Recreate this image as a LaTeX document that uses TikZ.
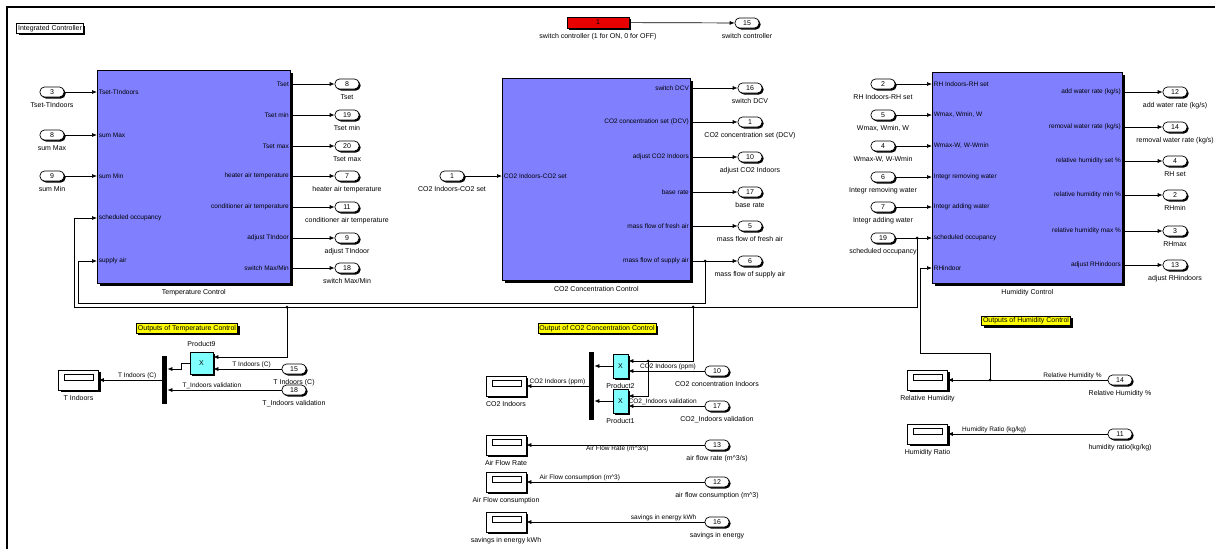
\documentclass[tikz,border=0pt]{standalone}
\usepackage{fontspec}
\setmainfont{Liberation Sans}
\usepackage{tikz}
\definecolor{blockblue}{RGB}{128,128,255}
\definecolor{prodcyan}{RGB}{128,255,255}
\definecolor{constred}{RGB}{230,0,0}
\definecolor{notegelb}{RGB}{255,255,0}
\usetikzlibrary{arrows, arrows.meta, shapes, shadows, positioning}

\begin{document}
\begin{tikzpicture}[x=1pt, y=-1pt, >={Latex[length=5pt,width=4pt]}, line width=0.7pt,
		font=\fontsize{7}{8}\selectfont, label distance=4pt,
		subsys/.style={draw, fill=blockblue, inner sep=0pt, anchor=north west, drop shadow={shadow xshift=3pt, shadow yshift=-3pt, opacity=1, fill=black}},
		port/.style={draw, fill=white, rounded corners=4.5pt, minimum width=24pt, minimum height=10pt, inner sep=0pt, drop shadow={shadow xshift=1.5pt, shadow yshift=-1.5pt, opacity=1, fill=black}},
		olab/.style={font=\fontsize{7}{8}\selectfont, inner sep=1pt},
		ilab/.style={font=\fontsize{6.5}{7}\selectfont, inner sep=1.5pt},
		sig/.style={font=\fontsize{6.5}{7}\selectfont, inner sep=0.5pt},
		note/.style={draw, fill=notegelb, inner sep=1.5pt, drop shadow={shadow xshift=2pt, shadow yshift=-2pt, opacity=1, fill=black}},
		prod/.style={draw, fill=prodcyan, inner sep=0pt, minimum width=23pt, minimum height=22pt, drop shadow={shadow xshift=1.5pt, shadow yshift=-1.5pt, opacity=1, fill=black}},
		muxbar/.style={fill=black, inner sep=0pt, minimum width=5pt},
		disp/.style={draw, fill=white, minimum width=40pt, minimum height=20pt, inner sep=0pt, drop shadow={shadow xshift=2pt, shadow yshift=-2pt, opacity=1, fill=black},
			path picture={\draw[line width=0.6pt] ([xshift=6pt,yshift=-4pt]path picture bounding box.north west) rectangle ([xshift=-5pt,yshift=10pt]path picture bounding box.south east);}}]
	\useasboundingbox (0,0) rectangle (1215,549);
	% Rahmen
	\draw[line width=2pt] (7,549) -- (7,6.5) -- (1215,6.5);
	\node[note, fill=white] (title) at (50,28.5) {Integrated Controller};
	% Schalter
	\node[draw, fill=constred, minimum width=62pt, minimum height=11pt, inner sep=0pt, drop shadow={shadow xshift=2pt, shadow yshift=-2pt, opacity=1, fill=black}, label={[olab]below:{switch controller (1 for ON, 0 for OFF)}}] (sw) at (598,22.5) {1};
	\node[port, label={[olab]below:switch controller}] (swo) at (747,23) {15};
	\draw[->] (sw) -- (swo);
	% Temperature Control
	\node[subsys, minimum width=193pt, minimum height=213pt, label={[olab]below:Temperature Control}] (tc) at (97,70) {};
	\foreach \yy/\nr/\txt [count=\i] in {92/3/Tset-TIndoors, 135/8/sum Max, 176/9/sum Min}{
		\node[port, label={[olab]below:\txt}] (tci\i) at (52,\yy) {\nr};
		\draw[->] (tci\i) -- (tc.west |- tci\i);
		\node[ilab, anchor=west] (tcil\i) at (tc.west |- tci\i) {\txt};
	}
	\coordinate (tcin4) at (tc.west |- 0,218);
	\coordinate (tcin5) at (tc.west |- 0,261);
	\node[ilab, anchor=west] (tcil4) at (tcin4) {scheduled occupancy};
	\node[ilab, anchor=west] (tcil5) at (tcin5) {supply air};
	\foreach \yy/\nr/\txt [count=\i] in {84/8/Tset, 115/19/Tset min, 146/20/Tset max, 176/7/heater air temperature, 207/11/conditioner air temperature, 238/9/adjust TIndoor, 268/18/{switch Max/Min}}{
		\node[port, label={[olab]below:\txt}] (tco\i) at (347,\yy) {\nr};
		\draw[->] (tc.east |- tco\i) -- (tco\i);
		\node[ilab, anchor=east] (tcol\i) at (tc.east |- tco\i) {\txt};
	}
	% CO2 Concentration Control
	\node[subsys, minimum width=188pt, minimum height=202pt, label={[olab]below:CO2 Concentration Control}] (cc) at (502,78) {};
	\node[port, label={[olab]below:CO2 Indoors-CO2 set}] (cci1) at (452,176) {1};
	\draw[->] (cci1) -- (cc.west |- cci1);
	\node[ilab, anchor=west] (ccil1) at (cc.west |- cci1) {CO2 Indoors-CO2 set};
	\foreach \yy/\nr/\txt [count=\i] in {88/16/switch DCV, 122/1/{CO2 concentration set (DCV)}, 157/10/adjust CO2 Indoors, 192/17/base rate, 226/5/mass flow of fresh air, 261/6/mass flow of supply air}{
		\node[port, label={[olab]below:\txt}] (cco\i) at (750,\yy) {\nr};
		\draw[->] (cc.east |- cco\i) -- (cco\i);
		\node[ilab, anchor=east] (ccol\i) at (cc.east |- cco\i) {\txt};
	}
	% Humidity Control
	\node[subsys, minimum width=190pt, minimum height=211pt, label={[olab]below:Humidity Control}] (hc) at (932,72) {};
	\foreach \yy/\nr/\txt [count=\i] in {84/2/RH Indoors-RH set, 115/5/{Wmax, Wmin, W}, 146/4/{Wmax-W, W-Wmin}, 177/6/Integr removing water, 207/7/Integr adding water, 238/19/scheduled occupancy}{
		\node[port, label={[olab]below:\txt}] (hci\i) at (883,\yy) {\nr};
		\draw[->] (hci\i) -- (hc.west |- hci\i);
		\node[ilab, anchor=west] (hcil\i) at (hc.west |- hci\i) {\txt};
	}
	\coordinate (hcin7) at (hc.west |- 0,268);
	\node[ilab, anchor=west] (hcil7) at (hcin7) {RHindoor};
	\foreach \yy/\nr/\inn/\txt [count=\i] in {92/12/{add water rate (kg/s)}/{add water rate (kg/s)}, 127/14/{removal water rate (kg/s)}/{removal water rate (kg/s)}, 161/4/{relative humidity set \%}/RH set, 195/2/{relative humidity min \%}/RHmin, 231/3/{relative humidity max \%}/RHmax, 265/13/adjust RHindoors/adjust RHindoors}{
		\node[port, label={[olab]below:\txt}] (hco\i) at (1175,\yy) {\nr};
		\draw[->] (hc.east |- hco\i) -- (hco\i);
		\node[ilab, anchor=east] (hcol\i) at (hc.east |- hco\i) {\inn};
	}
	% Rueckfuehrungen
	\coordinate (a1) at (705,261);
	\coordinate (b1) at (917,238);
	\coordinate (b2) at (287,307);
	\coordinate (b3) at (693,307);
	\draw[->] (a1) -- (705,303) -- (78,303) |- (tcin5);
	\draw[->] (b1) -- (917,307) -- (74,307) |- (tcin4);
	\foreach \p in {a1,b1,b2,b3} \fill (\p) circle (1.5pt);
	% Ausgaenge Temperatur
	\node[note] (n1) at (187,328.5) {Outputs of Temperature Control};
	\node[prod, label={[olab]above:Product9}] (p9) at (201.5,363) {X};
	\node[port, label={[olab]below:T Indoors (C)}] (tv1) at (294,369) {15};
	\node[port, label={[olab]below:T\_Indoors validation}] (tv2) at (294,390) {18};
	\node[muxbar, minimum height=48pt] (m1) at (164.5,380) {};
	\node[disp, label={[olab]below:T Indoors}] (d1) at (78.5,380) {};
	\draw[->] (b2) |- ([yshift=6pt]p9.east);
	\draw[->] (tv1) -- node[sig, above, pos=0.44] {T Indoors (C)} ([yshift=-6pt]p9.east);
	\draw[->] (p9.west) -- ++(-8,0) |- (m1.east |- 0,369);
	\draw[->] (tv2) -- node[sig, above, pos=0.61] {T\_Indoors validation} (m1.east |- tv2);
	\draw[->] (m1) -- node[sig, above, pos=0.39] {T Indoors (C)} (d1);
	% Ausgaenge CO2
	\node[note] (n2) at (597,328.5) {Output of CO2 Concentration Control};
	\node[prod, minimum width=15pt, minimum height=24pt, label={[olab]below:Product2}] (p2) at (620.5,366) {X};
	\node[prod, minimum width=15pt, minimum height=24pt, label={[olab]below:Product1}] (p1) at (620.5,401) {X};
	\node[port, label={[olab]below:CO2 concentration Indoors}] (cv1) at (717,371) {10};
	\node[port, label={[olab]below:CO2\_Indoors validation}] (cv2) at (717,406) {17};
	\node[muxbar, minimum height=68pt] (m2) at (591.5,386) {};
	\node[disp, label={[olab]below:CO2 Indoors}] (d2) at (506,386) {};
	\coordinate (b4) at (648,361);
	\draw[->] (b3) |- ([yshift=5pt]p2.east);
	\draw[->] (b4) |- ([yshift=5pt]p1.east);
	\fill (b4) circle (1.5pt);
	\draw[->] (cv1) -- node[sig, above, pos=0.48] {CO2 Indoors (ppm)} ([yshift=-5pt]p2.east);
	\draw[->] (cv2) -- node[sig, above, pos=0.55] {CO2\_Indoors validation} ([yshift=-5pt]p1.east);
	\draw[->] (p2) -- (m2.east |- p2);
	\draw[->] (p1) -- (m2.east |- p1);
	\draw[->] (m2) -- node[sig, above, pos=0.5] {CO2 Indoors (ppm)} (d2);
	% Luftmengen
	\foreach \yy/\nr/\dtxt/\ptxt/\stxt/\pp/\an [count=\i] in {445/13/Air Flow Rate/{air flow rate (m\textasciicircum3/s)}/{Air Flow Rate (m\textasciicircum3/s)}/0.49/north, 482/12/Air Flow consumption/{air flow consumption (m\textasciicircum3)}/{Air Flow consumption (m\textasciicircum3)}/0.70/south, 522/16/savings in energy kWh/savings in energy/savings in energy kWh/0.23/south}{
		\node[disp, label={[olab]below:\dtxt}] (da\i) at (506,\yy) {};
		\node[port, label={[olab]below:\ptxt}] (ap\i) at (717,\yy) {\nr};
		\draw[->] (ap\i) -- node[sig, anchor=\an, pos=\pp] {\stxt} (da\i);
	}
	% Ausgaenge Feuchte
	\node[note] (n3) at (1026,321) {Outputs of Humidity Control};
	\node[disp, label={[olab]below:Relative Humidity}] (d3) at (927.5,380) {};
	\node[port, label={[olab]below:{Relative Humidity \%}}] (hv1) at (1120,380) {14};
	\draw[->] (hv1) -- node[sig, above, pos=0.22] {Relative Humidity \%} (d3);
	\coordinate (c1) at (990,380);
	\fill (c1) circle (1.5pt);
	\draw[->] (c1) -- (990,353) -- (920,353) |- (hcin7);
	\node[disp, label={[olab]below:Humidity Ratio}] (d4) at (927.5,434) {};
	\node[port, label={[olab]below:{humidity ratio(kg/kg)}}] (hv2) at (1120,434) {11};
	\draw[->] (hv2) -- node[sig, above, pos=0.71] {Humidity Ratio (kg/kg)} (d4);
\end{tikzpicture}
\end{document}
